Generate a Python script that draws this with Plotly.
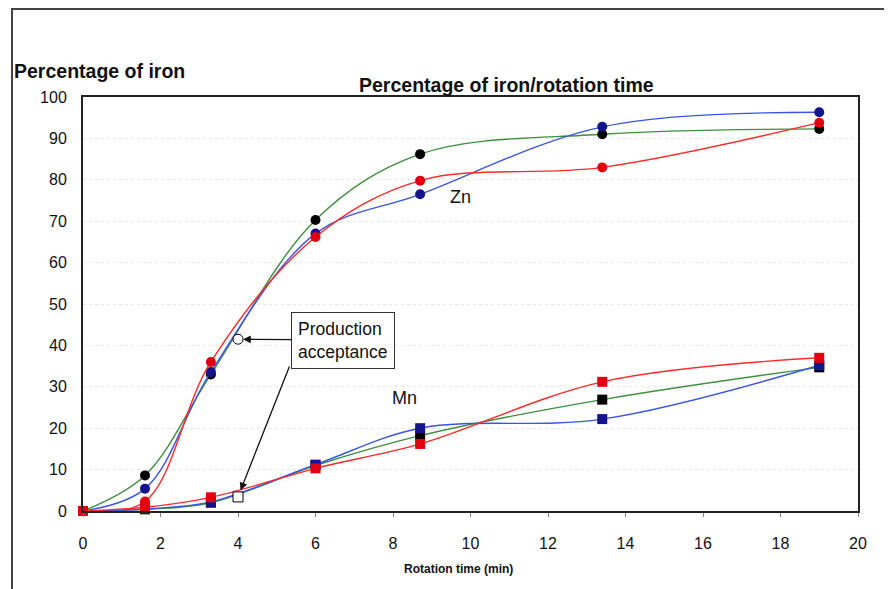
import plotly.graph_objects as go

time_min = [0, 1.6, 3.3, 6.0, 8.7, 13.4, 19.0]

zn_black = [0, 8.6, 33.0, 70.3, 86.2, 91.0, 92.3]
zn_blue = [0, 5.4, 33.6, 67.0, 76.5, 92.8, 96.3]
zn_red = [0, 2.3, 36.0, 66.2, 79.8, 83.0, 93.8]

mn_black = [0, 0.4, 2.0, 11.0, 18.2, 26.9, 34.7]
mn_blue = [0, 0.5, 2.2, 11.2, 20.0, 22.2, 35.2]
mn_red = [0, 0.9, 3.3, 10.3, 16.2, 31.2, 37.0]

accept_x = [4.0]
accept_zn = [41.5]
accept_mn = [3.4]

x_ticks = list(range(0, 21, 2))
y_ticks = list(range(0, 101, 10))

series = [
    (zn_black, "#3f8f3f", "#000000", "circle"),
    (zn_blue, "#3a55e6", "#14148c", "circle"),
    (zn_red, "#ff2a2a", "#e00010", "circle"),
    (mn_black, "#3f8f3f", "#000000", "square"),
    (mn_blue, "#3a55e6", "#14148c", "square"),
    (mn_red, "#ff2a2a", "#e00010", "square"),
]

fig = go.Figure()
for vals, lc, mc, sym in series:
    fig.add_trace(go.Scatter(
        x=time_min, y=vals, mode="lines+markers",
        line=dict(color=lc, width=1.4, shape="spline", smoothing=1.0),
        marker=dict(color=mc, size=10, symbol=sym),
        showlegend=False, cliponaxis=False,
    ))

fig.add_trace(go.Scatter(x=accept_x, y=accept_zn, mode="markers",
                         marker=dict(symbol="circle", size=10, color="white",
                                     line=dict(color="black", width=1)),
                         showlegend=False, cliponaxis=False))
fig.add_trace(go.Scatter(x=accept_x, y=accept_mn, mode="markers",
                         marker=dict(symbol="square", size=10, color="white",
                                     line=dict(color="black", width=1)),
                         showlegend=False, cliponaxis=False))

tickfont = dict(family="Liberation Sans, Arial, sans-serif", size=16, color="#111")
boldfont = "Liberation Sans, Arial, sans-serif"

fig.update_xaxes(range=[0, 20], tickvals=x_ticks, ticks="outside", ticklen=4,
                 tickcolor="#888", showline=True, linecolor="#222", linewidth=2,
                 mirror=True, showgrid=False, zeroline=False, tickfont=tickfont,
                 ticklabelstandoff=13)
fig.update_yaxes(range=[0, 100], tickvals=y_ticks, ticks="", showline=True,
                 linecolor="#222", linewidth=2, mirror=True, showgrid=True,
                 gridcolor="#e6e6e6", griddash="dot", gridwidth=1,
                 zeroline=False, tickfont=tickfont, ticklabelstandoff=11)

annotations = [
    dict(text="<b>Percentage of iron/rotation time</b>", x=0.547, y=1.06,
         xref="paper", yref="paper", showarrow=False,
         font=dict(family=boldfont, size=19.5, color="#111")),
    dict(text="<b>Percentage of iron</b>", x=-0.0916, y=1.094, xanchor="left",
         xref="paper", yref="paper", showarrow=False,
         font=dict(family=boldfont, size=19.5, color="#111")),
    dict(text="<b>Rotation time (min)</b>", x=0.484, y=-0.162,
         xref="paper", yref="paper", showarrow=False,
         font=dict(family=boldfont, size=12, color="#111")),
    dict(text="Zn", x=9.75, y=75.8, showarrow=False,
         font=dict(family="Liberation Sans, Arial", size=18, color="#111")),
    dict(text="Mn", x=8.3, y=27.3, showarrow=False,
         font=dict(family="Liberation Sans, Arial", size=18, color="#111")),
    dict(text="Production<br>acceptance", x=accept_x[0], y=accept_zn[0],
         ax=105, ay=1, showarrow=True, arrowhead=2, arrowsize=1.2,
         arrowwidth=1.3, arrowcolor="#111", standoff=5,
         bordercolor="#333", borderwidth=1, borderpad=6, bgcolor="white",
         align="left",
         font=dict(family="Liberation Sans, Arial", size=17.5, color="#111")),
    dict(text="", x=accept_x[0], y=accept_mn[0], ax=52, ay=-132,
         showarrow=True, arrowhead=2, arrowsize=1.2, arrowwidth=1.3,
         arrowcolor="#111", standoff=7),
]
fig.update_layout(annotations=annotations)

fig.add_shape(type="rect", xref="paper", yref="paper",
              x0=-0.0916, x1=1.043, y0=-0.4, y1=1.2126,
              line=dict(color="#444", width=2), layer="below")

fig.update_layout(
    width=892, height=589,
    margin=dict(l=75, r=42, t=89, b=86),
    paper_bgcolor="white", plot_bgcolor="white",
)

fig.write_html("out.html")
